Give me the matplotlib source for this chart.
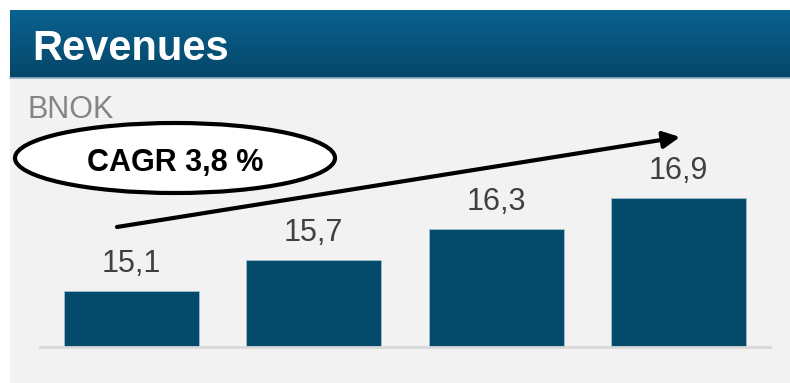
import numpy as np
import matplotlib.pyplot as plt
from matplotlib.patches import Rectangle, Ellipse

plt.rcParams['font.family'] = ['Liberation Sans', 'DejaVu Sans']

years = ["2013", "2014", "2015", "2016"]
revenues = [15.1, 15.7, 16.3, 16.9]
value_labels = ["15,1", "15,7", "16,3", "16,9"]
title = "Revenues"
unit = "BNOK"
cagr_text = "CAGR 3,8 %"

W, H = 790, 383
fig = plt.figure(figsize=(W / 100, H / 100), dpi=100)
fig.patch.set_facecolor("white")

# background layer in pixel coordinates (y grows downwards)
bg = fig.add_axes([0, 0, 1, 1])
bg.set_xlim(0, W)
bg.set_ylim(H, 0)
bg.axis("off")

bg.add_patch(Rectangle((10, 78), W - 10, H - 78, facecolor="#f2f2f2", edgecolor="none"))

# header band with vertical gradient
grad = np.linspace(0, 1, 64).reshape(-1, 1)
top = np.array([0x0a, 0x62, 0x90]) / 255
bot = np.array([0x05, 0x46, 0x68]) / 255
img = top + (bot - top) * grad[..., None]
bg.imshow(img, extent=(10, W, 78, 10), aspect="auto", interpolation="bilinear")
bg.plot([10, W], [78, 78], color="#8db4c8", lw=1.2)
bg.set_xlim(0, W)
bg.set_ylim(H, 0)

bg.text(32, 60, title, color="white", fontsize=30, fontweight="bold", va="baseline")
bg.text(28, 118, unit, color="#858585", fontsize=22, va="baseline")

bg.add_patch(Ellipse((175, 158), 320, 70, facecolor="white", edgecolor="black", lw=3))
bg.text(175, 171, cagr_text, color="black", fontsize=22, fontweight="bold",
        ha="center", va="baseline")

bg.annotate("", xy=(680, 137), xytext=(117, 227),
            arrowprops=dict(arrowstyle="-|>", color="black", lw=3,
                            mutation_scale=25, shrinkA=0, shrinkB=0))

# bar chart
ax = fig.add_axes([40 / W, (H - 347) / H, 730 / W, 247 / H])
ax.patch.set_alpha(0)
x = np.arange(len(years))
ax.bar(x, revenues, width=0.74, color="#034a6b", edgecolor="#9fc0d2", linewidth=0.6)
ax.set_xlim(-0.5, len(years) - 0.5)
ax.set_ylim(14.02, 14.02 + 247 / 51.8)

for xi, v, lab in zip(x, revenues, value_labels):
    ax.annotate(lab, (xi, v), xytext=(0, 13.7), textcoords="offset points",
                ha="center", va="baseline", fontsize=22, color="#404040")

for s in ["top", "left", "right"]:
    ax.spines[s].set_visible(False)
ax.spines["bottom"].set_color("#d9d9d9")
ax.spines["bottom"].set_linewidth(2)
ax.set_xticks([])
ax.set_yticks([])

fig.savefig("out.png", dpi=100)
